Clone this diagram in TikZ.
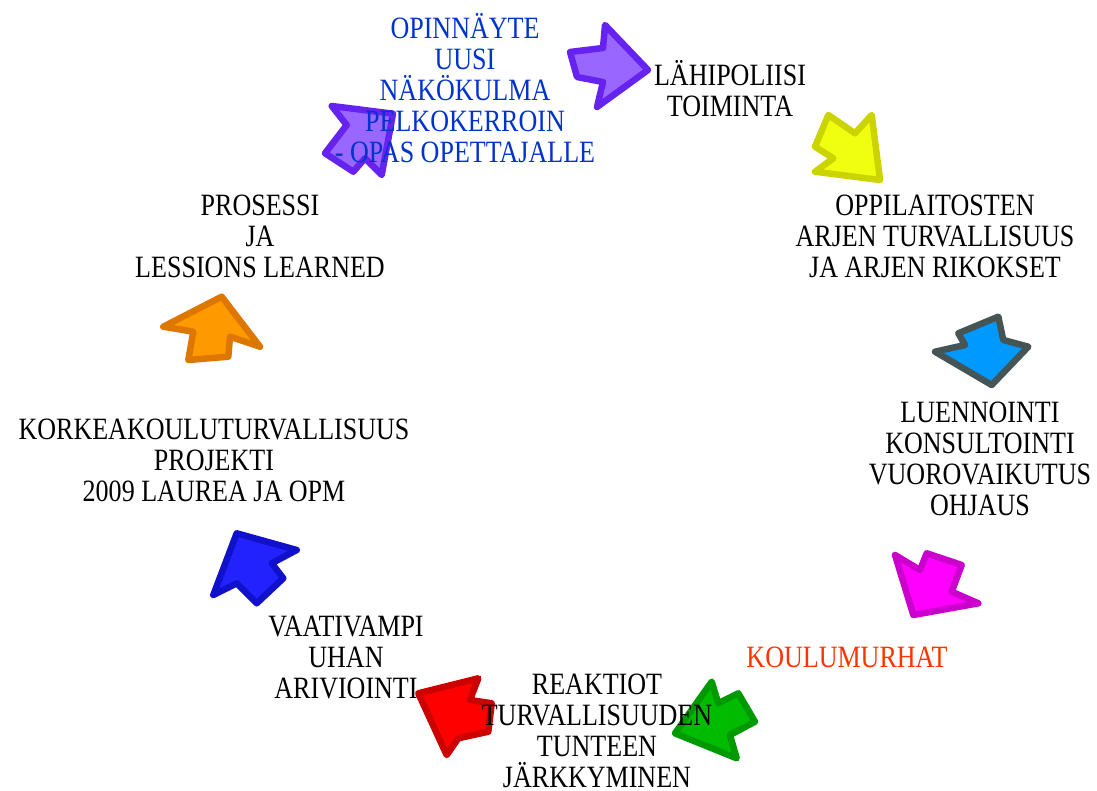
\documentclass[tikz,border=0pt]{standalone}
\usepackage{fontspec}
\setmainfont{Liberation Serif}[FakeStretch=0.84]
\definecolor{txtblue}{RGB}{0,51,204}
\definecolor{txtred}{RGB}{255,51,0}
\definecolor{purfill}{RGB}{153,102,255}
\definecolor{purline}{RGB}{102,34,238}
\definecolor{yelfill}{RGB}{240,255,16}
\definecolor{yelline}{RGB}{204,212,0}
\definecolor{bluefill}{RGB}{0,153,255}
\definecolor{blueline}{RGB}{69,85,85}
\definecolor{magfill}{RGB}{255,0,255}
\definecolor{magline}{RGB}{204,0,204}
\definecolor{grnfill}{RGB}{0,187,0}
\definecolor{grnline}{RGB}{0,153,0}
\definecolor{redfill}{RGB}{255,0,0}
\definecolor{redline}{RGB}{204,0,0}
\definecolor{dbfill}{RGB}{34,34,255}
\definecolor{dbline}{RGB}{17,17,204}
\definecolor{orfill}{RGB}{255,153,0}
\definecolor{orline}{RGB}{221,119,0}
\begin{document}
\begin{tikzpicture}[x=1pt,y=-1pt,
  blockarrow/.style={line width=6.5pt, line join=round},
  label/.style={align=center, inner sep=0pt, font=\fontsize{31}{31}\selectfont, text=black}]
\useasboundingbox (0,0) rectangle (1097,791);
% arrows
\draw[blockarrow, fill=purfill, draw=purline] (648,70) -- (605,25) -- (603,48) -- (570,52) -- (577,77) -- (603,82) -- (597,107) -- cycle;
\draw[blockarrow, fill=yelfill, draw=yelline] (880,180) -- (871.7,115) -- (855,133.3) -- (828.3,115) -- (815,146.7) -- (833.3,158.3) -- (815,171.7) -- cycle;
\draw[blockarrow, fill=bluefill, draw=blueline] (991.7,385) -- (1028.3,346.7) -- (1003.3,340) -- (998.3,316.7) -- (958.3,333.3) -- (965,345) -- (935,351.7) -- cycle;
\draw[blockarrow, fill=magfill, draw=magline] (913.3,615) -- (978.3,603.3) -- (951.7,591.7) -- (961.7,565) -- (926.7,553.3) -- (920,570) -- (895,555) -- cycle;
\draw[blockarrow, fill=grnfill, draw=grnline] (675,733.3) -- (711.7,681.7) -- (718.3,703.3) -- (738.3,693.3) -- (755,721.7) -- (730,735) -- (736.7,758.3) -- cycle;
\draw[blockarrow, fill=redfill, draw=redline] (418.3,693.3) -- (478.3,678.3) -- (470,700) -- (491.7,703.3) -- (488.3,731.7) -- (458.3,738.3) -- (446.7,755) -- cycle;
\draw[blockarrow, fill=dbfill, draw=dbline] (236.7,533.3) -- (296.7,550) -- (271.7,563.3) -- (283.3,578.3) -- (256.7,603.3) -- (236.7,583.3) -- (213.3,595) -- cycle;
\draw[blockarrow, fill=orfill, draw=orline] (221.7,296.7) -- (260,346.7) -- (230,336.7) -- (228.3,356.7) -- (188.3,360) -- (193.3,331.7) -- (163.3,326.7) -- cycle;
\draw[blockarrow, fill=purfill, draw=purline] (393,113.7) -- (331.7,106) -- (346.7,125) -- (325,153.3) -- (353.3,171.7) -- (365,158.3) -- (381.7,175) -- cycle;
% labels
\node[label, text=txtblue] (opin) at (465,88) {OPINNÄYTE\\UUSI\\NÄKÖKULMA\\PELKOKERROIN\\- OPAS OPETTAJALLE};
\node[label] (lahi) at (730,89) {LÄHIPOLIISI\\TOIMINTA};
\node[label] (oppi) at (935,236) {OPPILAITOSTEN\\ARJEN TURVALLISUUS\\JA ARJEN RIKOKSET};
\node[label] (luen) at (980,459) {LUENNOINTI\\KONSULTOINTI\\VUOROVAIKUTUS\\OHJAUS};
\node[label, text=txtred] (koulu) at (847,657) {KOULUMURHAT};
\node[label] (reak) at (597,731) {REAKTIOT\\TURVALLISUUDEN\\TUNTEEN\\JÄRKKYMINEN};
\node[label] (vaat) at (346,657) {VAATIVAMPI\\UHAN\\ARIVIOINTI};
\node[label] (kork) at (214,460) {KORKEAKOULUTURVALLISUUS\\PROJEKTI\\2009 LAUREA JA OPM};
\node[label] (pros) at (260,236) {PROSESSI\\JA\\LESSIONS LEARNED};
\end{tikzpicture}
\end{document}
